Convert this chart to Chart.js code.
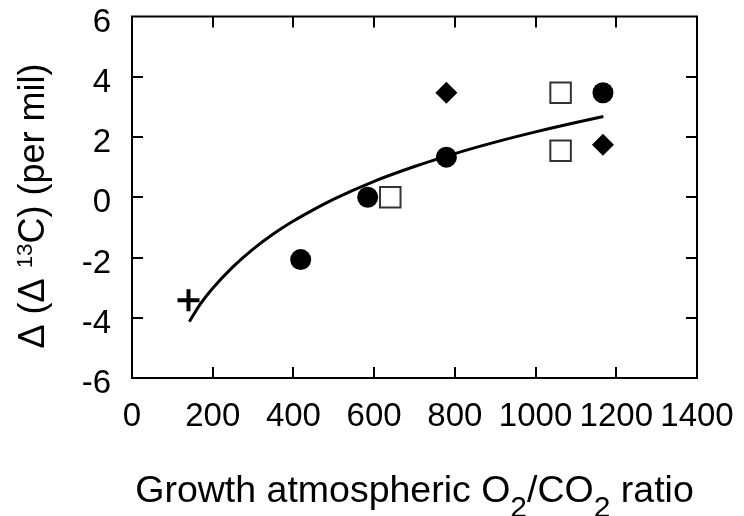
<!DOCTYPE html>
<html><head><meta charset="utf-8">
<script src="https://cdn.jsdelivr.net/npm/chart.js@4.4.0/dist/chart.umd.min.js"></script>
<style>html,body{margin:0;padding:0;background:#fff;}canvas{display:block;}</style>
</head><body>
<canvas id="c" width="744" height="516"></canvas>
<script>
// ---- data ----
const xTickValues = [0, 200, 400, 600, 800, 1000, 1200, 1400];
const yTickValues = [-6, -4, -2, 0, 2, 4, 6];
const circleX = [418, 584, 779, 1167];
const circleY = [-2.07, 0.0, 1.33, 3.47];
const squareX = [640, 1062, 1062];
const squareY = [0.0, 3.47, 1.54];
const diamondX = [779, 1167];
const diamondY = [3.47, 1.74];
const plusX = [140];
const plusY = [-3.42];
const fitX = [142, 170, 200, 250, 300, 350, 400, 450, 500, 600, 700, 800, 900, 1000, 1100, 1168];
const fitY = [-4.13, -3.53, -3.02, -2.31, -1.72, -1.22, -0.79, -0.41, -0.06, 0.53, 1.02, 1.45, 1.83, 2.17, 2.48, 2.68];
const xTitleParts = [["Growth atmospheric O", 0], ["2", -1], ["/CO", 0], ["2", -1], [" ratio", 0]];
const yTitleParts = [["\u0394 (\u0394 ", 0], ["13", 1], ["C) (per mil)", 0]];

const FAMILY = "'Liberation Sans', Arial, Helvetica, sans-serif";
const pts = (xs, ys) => xs.map((x, i) => ({ x: x, y: ys[i] }));

function richText(ctx, parts, size) {
  let total = 0;
  const items = parts.map(([t, k]) => {
    const s = k === 0 ? size : (k < 0 ? size * 0.8 : size * 0.62);
    ctx.font = s + 'px ' + FAMILY;
    const w = ctx.measureText(t).width;
    total += w;
    return { t, s, w, k };
  });
  return { items, total };
}
function drawRich(ctx, parts, size, cx, baseY) {
  const r = richText(ctx, parts, size);
  let x = cx - r.total / 2;
  ctx.textAlign = 'left';
  ctx.textBaseline = 'alphabetic';
  ctx.fillStyle = '#000';
  r.items.forEach(it => {
    ctx.font = it.s + 'px ' + FAMILY;
    const dy = it.k < 0 ? size * 0.40 : (it.k > 0 ? -size * 0.33 : 0);
    ctx.fillText(it.t, x, baseY + dy);
    x += it.w;
  });
}

const framePlugin = {
  id: 'frame',
  afterDatasetsDraw(chart) {
    const ctx = chart.ctx, a = chart.chartArea;
    const xs = chart.scales.x, ys = chart.scales.y;
    ctx.save();
    ctx.strokeStyle = '#000';
    ctx.lineWidth = 2;
    ctx.strokeRect(a.left, a.top, a.right - a.left, a.bottom - a.top);
    const L = 11;
    ctx.beginPath();
    xTickValues.slice(1, -1).forEach(v => {
      const px = Math.round(xs.getPixelForValue(v));
      ctx.moveTo(px, a.bottom); ctx.lineTo(px, a.bottom - L);
      ctx.moveTo(px, a.top); ctx.lineTo(px, a.top + L);
    });
    yTickValues.slice(1, -1).forEach(v => {
      const py = Math.round(ys.getPixelForValue(v));
      ctx.moveTo(a.left, py); ctx.lineTo(a.left + L, py);
      ctx.moveTo(a.right, py); ctx.lineTo(a.right - L, py);
    });
    ctx.stroke();
    ctx.restore();
  },
  afterDraw(chart) {
    const ctx = chart.ctx, a = chart.chartArea;
    ctx.save();
    drawRich(ctx, xTitleParts, 37.5, (a.left + a.right) / 2, 502);
    ctx.translate(44, 206);
    ctx.rotate(-Math.PI / 2);
    drawRich(ctx, yTitleParts, 36, 0, 0);
    ctx.restore();
  }
};

new Chart(document.getElementById('c'), {
  type: 'scatter',
  data: {
    datasets: [
      { label: 'fit', data: pts(fitX, fitY), showLine: true, borderColor: '#000', borderWidth: 3,
        pointRadius: 0, cubicInterpolationMode: 'monotone', fill: false },
      { label: 'circles', data: pts(circleX, circleY), pointStyle: 'circle', pointRadius: 10.5,
        backgroundColor: '#000', borderColor: '#000', borderWidth: 0 },
      { label: 'squares', data: pts(squareX, squareY), pointStyle: 'rect', pointRadius: 14.5,
        backgroundColor: '#fff', borderColor: '#333', borderWidth: 2 },
      { label: 'diamonds', data: pts(diamondX, diamondY), pointStyle: 'rectRot', pointRadius: 11,
        backgroundColor: '#000', borderColor: '#000', borderWidth: 0 },
      { label: 'plus', data: pts(plusX, plusY), pointStyle: 'cross', pointRadius: 11,
        borderColor: '#000', borderWidth: 4 }
    ]
  },
  options: {
    responsive: false, animation: false, devicePixelRatio: 1,
    layout: { padding: { top: 15, right: 47, left: 0, bottom: 0 } },
    plugins: { legend: { display: false }, tooltip: { enabled: false } },
    scales: {
      x: {
        type: 'linear', min: 0, max: 1400,
        afterBuildTicks: s => { s.ticks = xTickValues.map(v => ({ value: v })); },
        afterFit: s => { s.height = 138; s.paddingLeft = 0; s.paddingRight = 0; },
        grid: { display: false, drawTicks: false }, border: { display: false },
        ticks: { color: '#000', font: { family: FAMILY, size: 33 }, padding: 19,
          maxRotation: 0, minRotation: 0, autoSkip: false, callback: v => String(v) }
      },
      y: {
        type: 'linear', min: -6, max: 6,
        afterBuildTicks: s => { s.ticks = yTickValues.map(v => ({ value: v })); },
        afterFit: s => { s.width = 132; s.paddingTop = 0; s.paddingBottom = 0; },
        grid: { display: false, drawTicks: false }, border: { display: false },
        ticks: { color: '#000', font: { family: FAMILY, size: 33 }, padding: 21, labelOffset: 6,
          autoSkip: false, callback: v => String(v) }
      }
    }
  },
  plugins: [framePlugin]
});
</script>
</body></html>
